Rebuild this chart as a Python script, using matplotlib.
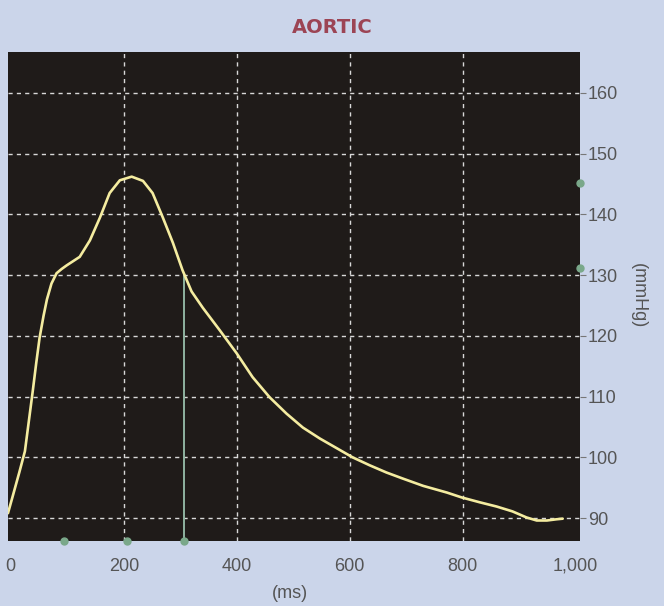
import matplotlib.pyplot as plt

# aortic pressure trace
time_ms = [-5, 4, 15, 25, 32, 39, 45, 51, 58, 64, 72, 81, 90, 99, 122, 140,
           158, 175, 193, 214, 234, 251, 269, 287, 304, 320, 340, 370, 400,
           428, 458, 488, 517, 547, 577, 605, 635, 665, 694, 730, 772, 798,
           830, 860, 888, 913, 931, 949, 966, 977]
pressure = [90.8, 93.8, 97.5, 101.0, 106.0, 111.0, 115.5, 119.7, 123.3, 126.0,
            128.6, 130.3, 131.0, 131.6, 133.0, 135.7, 139.5, 143.5, 145.6,
            146.2, 145.5, 143.5, 139.5, 135.3, 130.8, 127.3, 124.6, 120.9,
            117.1, 113.2, 109.9, 107.2, 104.9, 103.1, 101.5, 100.0, 98.7, 97.5,
            96.5, 95.3, 94.2, 93.4, 92.6, 91.9, 91.1, 90.1, 89.6, 89.6, 89.8,
            89.9]

cursor_ms = 307
cursor_mmhg = 130.0
x_markers = [94, 205, 306]
y_markers = [145.1, 131.1]

x_ticks = [0, 200, 400, 600, 800, 1000]
x_labels = ["0", "200", "400", "600", "800", "1,000"]
y_ticks = [90, 100, 110, 120, 130, 140, 150, 160]

plt.rcParams["font.family"] = ["Liberation Sans", "DejaVu Sans"]

fig = plt.figure(figsize=(6.64, 6.06), dpi=100, facecolor="#cbd5ea")
ax = fig.add_axes([0.012, 0.107, 0.861, 0.807])
ax.set_facecolor("#1f1b19")

y_bottom, y_top = 86.2, 166.7
grid_style = dict(color="#d8d8d8", linestyle=(0, (3, 3)), linewidth=1.0,
                  zorder=1)
for t in x_ticks[1:-1]:
    ax.axvline(t, **grid_style)
for p in y_ticks:
    ax.axhline(p, **grid_style)

ax.plot(time_ms, pressure, color="#f4eca0", linewidth=1.9, zorder=3,
        solid_joinstyle="round", solid_capstyle="round")
ax.plot([cursor_ms, cursor_ms], [y_bottom, cursor_mmhg], color="#8fb3a0",
        linewidth=1.4, zorder=2)
ax.plot(x_markers, [y_bottom] * len(x_markers), "o", color="#7aa88a",
        markersize=5, clip_on=False, zorder=4)
ax.plot([1007] * len(y_markers), y_markers, "o", color="#7aa88a",
        markersize=5, clip_on=False, zorder=4)

ax.set_xlim(-5, 1007)
ax.set_ylim(y_bottom, y_top)
ax.set_xticks(x_ticks, x_labels)
ax.set_yticks(y_ticks)
ax.yaxis.tick_right()
ax.tick_params(axis="y", length=4, color="#777777", labelsize=13,
               labelcolor="#555555", pad=2)
ax.tick_params(axis="x", length=0, labelsize=13, labelcolor="#555555", pad=12)
for side in ax.spines.values():
    side.set_visible(False)

fig.text(0.437, 0.021, "(ms)", ha="center", va="center", fontsize=13,
         color="#555555")
fig.text(0.961, 0.512, "(mmHg)", ha="center", va="center", fontsize=13,
         color="#555555", rotation=-90)
fig.text(0.5, 0.955, "AORTIC", ha="center", va="center", fontsize=14,
         fontweight="bold", color="#9c4454", family="Liberation Sans Narrow")

fig.savefig("out.png", dpi=100, facecolor=fig.get_facecolor())
